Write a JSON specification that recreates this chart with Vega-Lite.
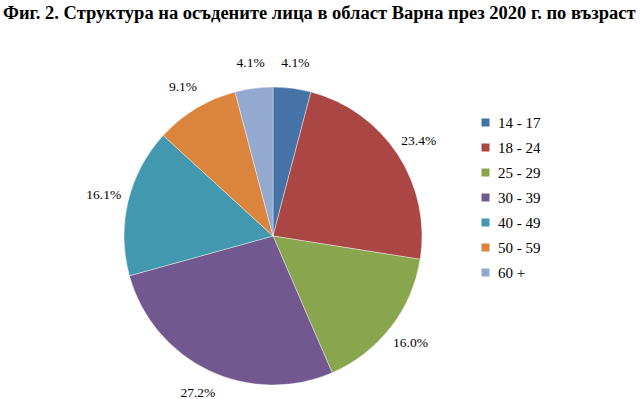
{
  "$schema": "https://vega.github.io/schema/vega-lite/v6.json",
  "width": 546,
  "height": 326,
  "autosize": {"type": "none"},
  "padding": {"left": 0, "top": 73, "right": 94, "bottom": 0},
  "background": "white",
  "title": {
    "text": "Фиг. 2. Структура на осъдените лица в област Варна през 2020 г. по възраст",
    "font": "Liberation Serif",
    "fontSize": 18.5,
    "fontWeight": "bold",
    "color": "black",
    "anchor": "start",
    "frame": "group",
    "offset": 34,
    "dx": 3
  },
  "data": {
    "values": [
      {"age": "14 - 17", "share": 0.041},
      {"age": "18 - 24", "share": 0.234},
      {"age": "25 - 29", "share": 0.160},
      {"age": "30 - 39", "share": 0.272},
      {"age": "40 - 49", "share": 0.161},
      {"age": "50 - 59", "share": 0.091},
      {"age": "60 +", "share": 0.041}
    ]
  },
  "layer": [
    {
      "mark": {"type": "arc", "radius": 149, "stroke": "white", "strokeWidth": 0.4},
      "encoding": {
        "theta": {"field": "share", "type": "quantitative", "stack": true},
        "order": {"field": "age", "type": "ordinal"},
        "color": {
          "field": "age",
          "type": "nominal",
          "scale": {
            "domain": ["14 - 17", "18 - 24", "25 - 29", "30 - 39", "40 - 49", "50 - 59", "60 +"],
            "range": ["#4572A7", "#AA4643", "#89A54E", "#71588F", "#4198AF", "#DB843D", "#93A9CF"]
          },
          "legend": {
            "orient": "none",
            "legendX": 478,
            "legendY": 42,
            "title": null,
            "symbolType": "square",
            "symbolSize": 64,
            "symbolStrokeWidth": 0,
            "labelFont": "Liberation Serif",
            "labelFontSize": 15,
            "labelColor": "black",
            "rowPadding": 9,
            "labelOffset": 5
          }
        }
      }
    },
    {
      "mark": {"type": "text", "radius": 174, "font": "Liberation Serif", "fontSize": 13.5, "color": "black"},
      "encoding": {
        "theta": {"field": "share", "type": "quantitative", "stack": true},
        "order": {"field": "age", "type": "ordinal"},
        "detail": {"field": "age", "type": "nominal"},
        "text": {"field": "share", "type": "quantitative", "format": ".1%"}
      }
    }
  ],
  "config": {"view": {"stroke": null}, "font": "Liberation Serif"}
}
